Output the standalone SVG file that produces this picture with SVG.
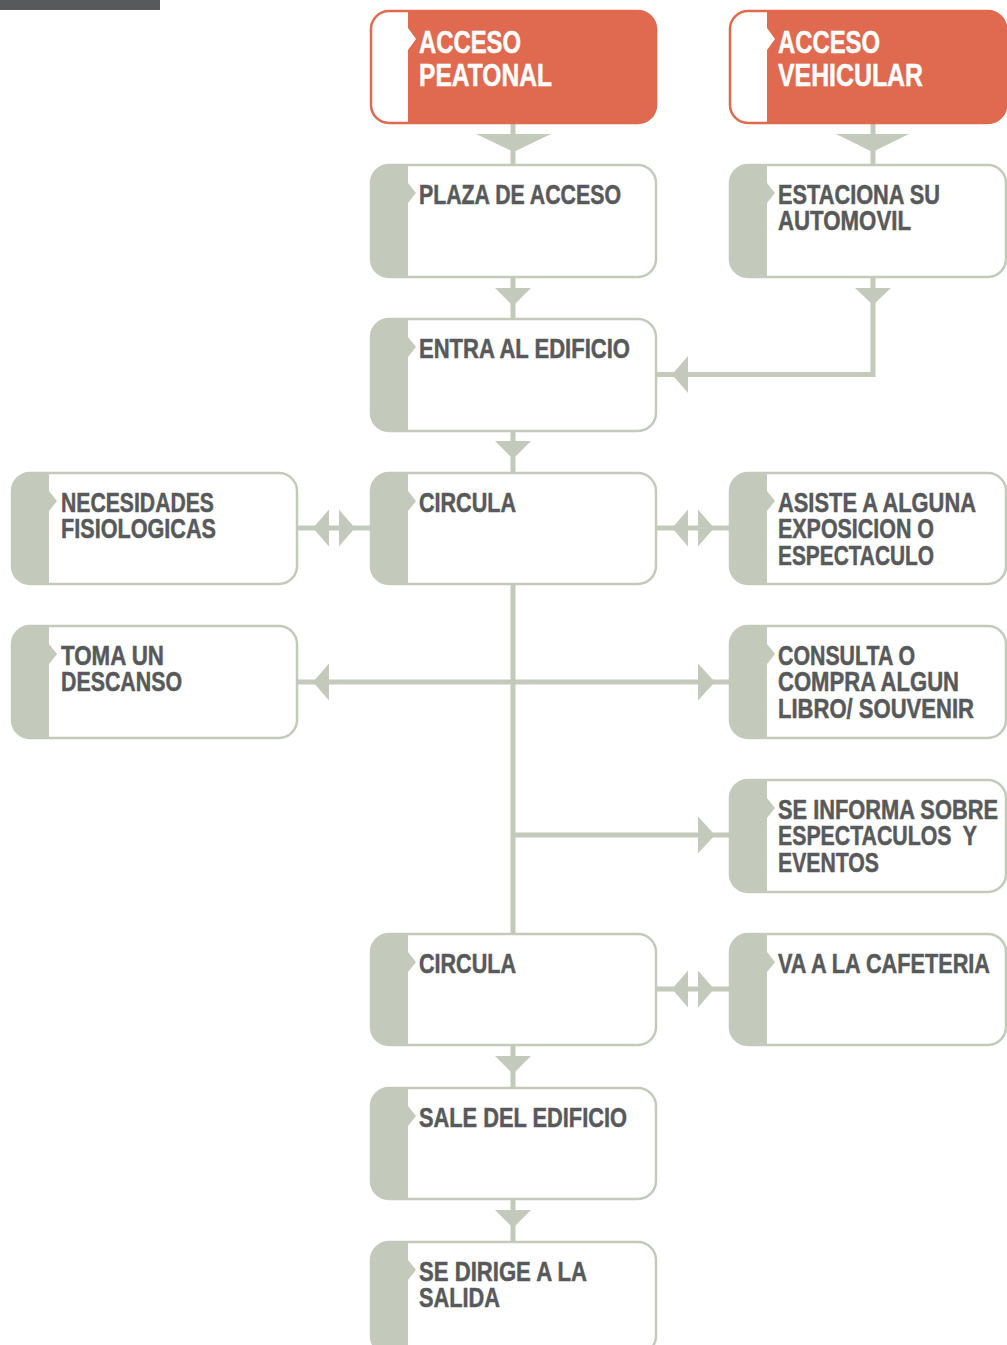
<svg xmlns="http://www.w3.org/2000/svg" width="1007" height="1345" viewBox="0 0 1007 1345">
<style>
.frame{fill:none;stroke-width:2.5}
.g .frame{stroke:#c4cabb}
.g .body{fill:#ffffff}
.g .bar{fill:#c4cabb}
.o .frame{stroke:#df6a4f}
.o .body{fill:#df6a4f}
.o .bar{fill:#ffffff}
.t{font-family:"Liberation Sans Narrow","Liberation Sans",Arial,sans-serif;font-weight:bold;font-size:27px;fill:#58595b;stroke:#58595b;stroke-width:0.5}
.o .t{font-size:31px;fill:#ffffff;stroke:#ffffff}
.ln{stroke:#c4cabb;stroke-width:5;fill:none}
.ah{fill:#c4cabb}
</style>
<rect x="0" y="0" width="160" height="10" fill="#58595b"/>

<g id="connectors">
  <line class="ln" x1="513" y1="123" x2="513" y2="165"/>
  <polygon class="ah" points="476,134 551,134 513.5,152"/>
  <line class="ln" x1="513" y1="277" x2="513" y2="319"/>
  <polygon class="ah" points="495,288 531,288 513,306"/>
  <line class="ln" x1="513" y1="431" x2="513" y2="473"/>
  <polygon class="ah" points="495,441 531,441 513,459"/>
  <line class="ln" x1="513" y1="584" x2="513" y2="934"/>
  <line class="ln" x1="513" y1="1045" x2="513" y2="1088"/>
  <polygon class="ah" points="495,1056 531,1056 513,1074"/>
  <line class="ln" x1="513" y1="1199" x2="513" y2="1242"/>
  <polygon class="ah" points="495,1210 531,1210 513,1228"/>
  <line class="ln" x1="873" y1="123" x2="873" y2="165"/>
  <polygon class="ah" points="836,134 909,134 872.5,152"/>
  <polyline class="ln" points="873,277 873,374.5 656,374.5"/>
  <polygon class="ah" points="855,288 891,288 873,305"/>
  <polygon class="ah" points="672,374.5 688,356 688,393"/>
  <line class="ln" x1="297" y1="528" x2="372" y2="528"/>
  <polygon class="ah" points="313,528 329,509.5 329,546.5"/>
  <polygon class="ah" points="355,528 339,509.5 339,546.5"/>
  <line class="ln" x1="656" y1="528" x2="731" y2="528"/>
  <polygon class="ah" points="672,528 688,509.5 688,546.5"/>
  <polygon class="ah" points="714,528 698,509.5 698,546.5"/>
  <line class="ln" x1="297" y1="682" x2="731" y2="682"/>
  <polygon class="ah" points="313,682 329,663.5 329,700.5"/>
  <polygon class="ah" points="715,682 698,663.5 698,700.5"/>
  <line class="ln" x1="513" y1="835" x2="731" y2="835"/>
  <polygon class="ah" points="715,835 698,816.5 698,853.5"/>
  <line class="ln" x1="656" y1="989" x2="731" y2="989"/>
  <polygon class="ah" points="672,989 688,970.5 688,1007.5"/>
  <polygon class="ah" points="714,989 698,970.5 698,1007.5"/>
</g>

<g id="acceso-peatonal" class="o">
  <rect class="body" x="371" y="11" width="285" height="112" rx="18"/>
  <path class="bar" d="M389,11 H408 V28 L416,39 L408,50 V123 H389 A18,18 0 0 1 371,105 V29 A18,18 0 0 1 389,11 Z"/>
  <rect class="frame" x="371" y="11" width="285" height="112" rx="18"/>
  <text class="t" x="419" y="53" textLength="102" lengthAdjust="spacingAndGlyphs">ACCESO</text>
  <text class="t" x="419" y="86" textLength="133" lengthAdjust="spacingAndGlyphs">PEATONAL</text>
</g>

<g id="acceso-vehicular" class="o">
  <rect class="body" x="730" y="11" width="276" height="112" rx="18"/>
  <path class="bar" d="M748,11 H767 V28 L775,39 L767,50 V123 H748 A18,18 0 0 1 730,105 V29 A18,18 0 0 1 748,11 Z"/>
  <rect class="frame" x="730" y="11" width="276" height="112" rx="18"/>
  <text class="t" x="778" y="53" textLength="102" lengthAdjust="spacingAndGlyphs">ACCESO</text>
  <text class="t" x="778" y="86" textLength="145" lengthAdjust="spacingAndGlyphs">VEHICULAR</text>
</g>

<g id="plaza-de-acceso" class="g">
  <rect class="body" x="371" y="165" width="285" height="112" rx="18"/>
  <path class="bar" d="M389,165 H408 V183 L416,193 L408,203 V277 H389 A18,18 0 0 1 371,259 V183 A18,18 0 0 1 389,165 Z"/>
  <rect class="frame" x="371" y="165" width="285" height="112" rx="18"/>
  <text class="t" x="419" y="203.5" textLength="202" lengthAdjust="spacingAndGlyphs">PLAZA DE ACCESO</text>
</g>

<g id="estaciona" class="g">
  <rect class="body" x="730" y="165" width="276" height="112" rx="18"/>
  <path class="bar" d="M748,165 H767 V183 L775,193 L767,203 V277 H748 A18,18 0 0 1 730,259 V183 A18,18 0 0 1 748,165 Z"/>
  <rect class="frame" x="730" y="165" width="276" height="112" rx="18"/>
  <text class="t" x="778" y="203.5" textLength="162" lengthAdjust="spacingAndGlyphs">ESTACIONA SU</text>
  <text class="t" x="778" y="230" textLength="133" lengthAdjust="spacingAndGlyphs">AUTOMOVIL</text>
</g>

<g id="entra" class="g">
  <rect class="body" x="371" y="319" width="285" height="112" rx="18"/>
  <path class="bar" d="M389,319 H408 V337 L416,347 L408,357 V431 H389 A18,18 0 0 1 371,413 V337 A18,18 0 0 1 389,319 Z"/>
  <rect class="frame" x="371" y="319" width="285" height="112" rx="18"/>
  <text class="t" x="419" y="357.5" textLength="211" lengthAdjust="spacingAndGlyphs">ENTRA AL EDIFICIO</text>
</g>

<g id="necesidades" class="g">
  <rect class="body" x="12" y="473" width="285" height="111" rx="18"/>
  <path class="bar" d="M30,473 H49 V491 L57,501 L49,511 V584 H30 A18,18 0 0 1 12,566 V491 A18,18 0 0 1 30,473 Z"/>
  <rect class="frame" x="12" y="473" width="285" height="111" rx="18"/>
  <text class="t" x="61" y="511.5" textLength="153" lengthAdjust="spacingAndGlyphs">NECESIDADES</text>
  <text class="t" x="61" y="538" textLength="155" lengthAdjust="spacingAndGlyphs">FISIOLOGICAS</text>
</g>

<g id="circula-1" class="g">
  <rect class="body" x="371" y="473" width="285" height="111" rx="18"/>
  <path class="bar" d="M389,473 H408 V491 L416,501 L408,511 V584 H389 A18,18 0 0 1 371,566 V491 A18,18 0 0 1 389,473 Z"/>
  <rect class="frame" x="371" y="473" width="285" height="111" rx="18"/>
  <text class="t" x="419" y="511.5" textLength="97" lengthAdjust="spacingAndGlyphs">CIRCULA</text>
</g>

<g id="asiste" class="g">
  <rect class="body" x="730" y="473" width="276" height="111" rx="18"/>
  <path class="bar" d="M748,473 H767 V491 L775,501 L767,511 V584 H748 A18,18 0 0 1 730,566 V491 A18,18 0 0 1 748,473 Z"/>
  <rect class="frame" x="730" y="473" width="276" height="111" rx="18"/>
  <text class="t" x="778" y="511.5" textLength="198" lengthAdjust="spacingAndGlyphs">ASISTE A ALGUNA</text>
  <text class="t" x="778" y="538" textLength="156" lengthAdjust="spacingAndGlyphs">EXPOSICION O</text>
  <text class="t" x="778" y="564.5" textLength="156" lengthAdjust="spacingAndGlyphs">ESPECTACULO</text>
</g>

<g id="toma" class="g">
  <rect class="body" x="12" y="626" width="285" height="112" rx="18"/>
  <path class="bar" d="M30,626 H49 V644 L57,654 L49,664 V738 H30 A18,18 0 0 1 12,720 V644 A18,18 0 0 1 30,626 Z"/>
  <rect class="frame" x="12" y="626" width="285" height="112" rx="18"/>
  <text class="t" x="61" y="664.5" textLength="103" lengthAdjust="spacingAndGlyphs">TOMA UN</text>
  <text class="t" x="61" y="691" textLength="121" lengthAdjust="spacingAndGlyphs">DESCANSO</text>
</g>

<g id="consulta" class="g">
  <rect class="body" x="730" y="626" width="276" height="112" rx="18"/>
  <path class="bar" d="M748,626 H767 V644 L775,654 L767,664 V738 H748 A18,18 0 0 1 730,720 V644 A18,18 0 0 1 748,626 Z"/>
  <rect class="frame" x="730" y="626" width="276" height="112" rx="18"/>
  <text class="t" x="778" y="664.5" textLength="137" lengthAdjust="spacingAndGlyphs">CONSULTA O</text>
  <text class="t" x="778" y="691" textLength="181" lengthAdjust="spacingAndGlyphs">COMPRA ALGUN</text>
  <text class="t" x="778" y="717.5" textLength="196" lengthAdjust="spacingAndGlyphs">LIBRO/ SOUVENIR</text>
</g>

<g id="informa" class="g">
  <rect class="body" x="730" y="780" width="276" height="112" rx="18"/>
  <path class="bar" d="M748,780 H767 V798 L775,808 L767,818 V892 H748 A18,18 0 0 1 730,874 V798 A18,18 0 0 1 748,780 Z"/>
  <rect class="frame" x="730" y="780" width="276" height="112" rx="18"/>
  <text class="t" x="778" y="818.5" textLength="220" lengthAdjust="spacingAndGlyphs">SE INFORMA SOBRE</text>
  <text class="t" x="778" y="845" textLength="199" lengthAdjust="spacingAndGlyphs" xml:space="preserve">ESPECTACULOS  Y</text>
  <text class="t" x="778" y="871.5" textLength="101" lengthAdjust="spacingAndGlyphs">EVENTOS</text>
</g>

<g id="circula-2" class="g">
  <rect class="body" x="371" y="934" width="285" height="111" rx="18"/>
  <path class="bar" d="M389,934 H408 V952 L416,962 L408,972 V1045 H389 A18,18 0 0 1 371,1027 V952 A18,18 0 0 1 389,934 Z"/>
  <rect class="frame" x="371" y="934" width="285" height="111" rx="18"/>
  <text class="t" x="419" y="972.5" textLength="97" lengthAdjust="spacingAndGlyphs">CIRCULA</text>
</g>

<g id="cafeteria" class="g">
  <rect class="body" x="730" y="934" width="276" height="111" rx="18"/>
  <path class="bar" d="M748,934 H767 V952 L775,962 L767,972 V1045 H748 A18,18 0 0 1 730,1027 V952 A18,18 0 0 1 748,934 Z"/>
  <rect class="frame" x="730" y="934" width="276" height="111" rx="18"/>
  <text class="t" x="778" y="972.5" textLength="212" lengthAdjust="spacingAndGlyphs">VA A LA CAFETERIA</text>
</g>

<g id="sale" class="g">
  <rect class="body" x="371" y="1088" width="285" height="111" rx="18"/>
  <path class="bar" d="M389,1088 H408 V1106 L416,1116 L408,1126 V1199 H389 A18,18 0 0 1 371,1181 V1106 A18,18 0 0 1 389,1088 Z"/>
  <rect class="frame" x="371" y="1088" width="285" height="111" rx="18"/>
  <text class="t" x="419" y="1126.5" textLength="208" lengthAdjust="spacingAndGlyphs">SALE DEL EDIFICIO</text>
</g>

<g id="dirige" class="g">
  <rect class="body" x="371" y="1242" width="285" height="112" rx="18"/>
  <path class="bar" d="M389,1242 H408 V1260 L416,1270 L408,1280 V1354 H389 A18,18 0 0 1 371,1336 V1260 A18,18 0 0 1 389,1242 Z"/>
  <rect class="frame" x="371" y="1242" width="285" height="112" rx="18"/>
  <text class="t" x="419" y="1280.5" textLength="168" lengthAdjust="spacingAndGlyphs">SE DIRIGE A LA</text>
  <text class="t" x="419" y="1307" textLength="81" lengthAdjust="spacingAndGlyphs">SALIDA</text>
</g>
</svg>
